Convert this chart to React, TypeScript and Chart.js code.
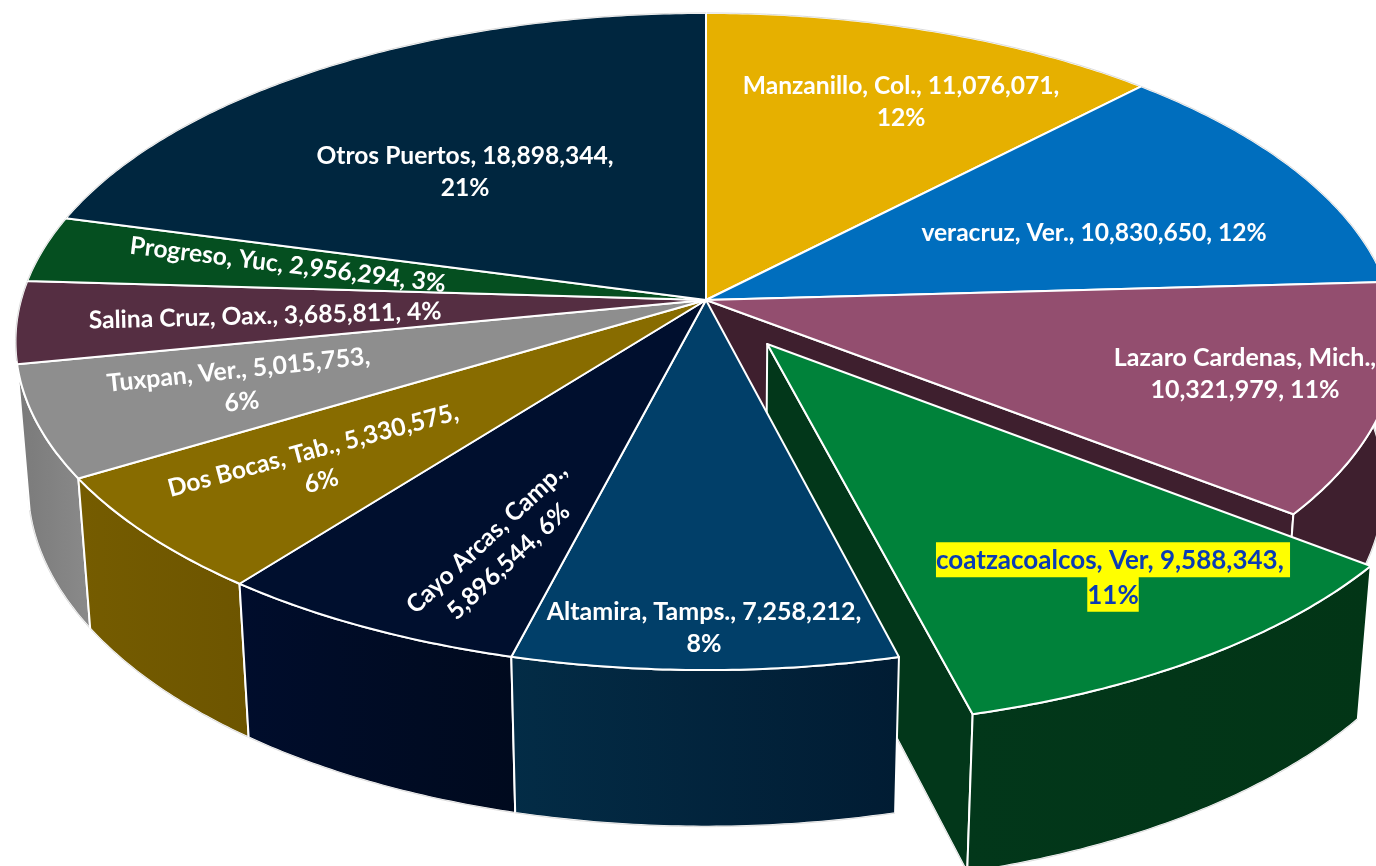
import React, { useEffect, useRef } from "react";
import { Chart, registerables } from "chart.js";

Chart.register(...registerables);

const categories = [
  "Manzanillo, Col.",
  "veracruz, Ver.",
  "Lazaro Cardenas, Mich.",
  "coatzacoalcos, Ver",
  "Altamira, Tamps.",
  "Cayo Arcas, Camp.",
  "Dos Bocas, Tab.",
  "Tuxpan, Ver.",
  "Salina Cruz, Oax.",
  "Progreso, Yuc",
  "Otros Puertos",
];
const values = [
  11076071, 10830650, 10321979, 9588343, 7258212, 5896544, 5330575, 5015753,
  3685811, 2956294, 18898344,
];
const topColors = [
  "#E6B000", "#006EBE", "#934E6F", "#00823A", "#013F69", "#000F2E",
  "#886C00", "#8E8E8E", "#552E42", "#054F20", "#00263F",
];
const wallLeft = [
  "#A07A00", "#004C84", "#3E1F2E", "#02371A", "#032C46", "#000D2C",
  "#755C00", "#7A7A7A", "#3B2030", "#033616", "#001A2C",
];
const wallRight = [
  "#A07A00", "#004C84", "#3E1F2E", "#023516", "#011C33", "#000A1E",
  "#6D5500", "#8A8A8A", "#3B2030", "#033616", "#001A2C",
];
// where each label's text wraps: "pct" before the percentage, "value" before the value, "" never
const wraps = ["pct", "", "value", "pct", "pct", "value", "pct", "pct", "", "", "pct"];

// label layout: centre x, centre y, rotation in degrees, font size
const labelX = [901, 1094, 1245, 1113, 704, 497, 317, 240, 265, 288, 465];
const labelY = [101, 232, 373, 577, 627, 549, 465, 385, 315, 264, 171];
const labelRot = [0, 0, 0, 0, 0, -43, -15, -6, -1.5, 7, 0];
const labelSize = [24.6, 24.6, 25, 26, 25, 24.6, 24.6, 24.8, 24.6, 24.6, 24.6];

const EXPLODED = 3;
const EXPLODE = 0.16;
const LINE = 32;
const EDGE = "rgba(190,190,190,0.55)";

// perspective camera for the unit disc (z = 0 top face, z = 1 bottom face)
const CX = 706, CY = 300, RX = 685, KY = 323.3, PV = -0.1263, QZ = 0.018, HZ = 146.3;
const project = (u: number, v: number, z: number): [number, number] => {
  const w = 1 + PV * v + QZ * z;
  return [CX + (RX * u) / w, CY + (KY * v + HZ * z) / w];
};

const tracePoints = (ctx: CanvasRenderingContext2D, pts: [number, number][], close = true) => {
  ctx.beginPath();
  pts.forEach((p, i) => (i ? ctx.lineTo(p[0], p[1]) : ctx.moveTo(p[0], p[1])));
  if (close) ctx.closePath();
};

const pie3d = {
  id: "pie3d",
  beforeDatasetDraw(chart: any) {
    const ctx: CanvasRenderingContext2D = chart.ctx;
    const arcs = chart.getDatasetMeta(0).data;
    const total = values.reduce((a, b) => a + b, 0);

    const geo = arcs.map((arc: any, i: number) => {
      const start = arc.startAngle, end = arc.endAngle;
      const mid = (start + end) / 2;
      const ox = i === EXPLODED ? EXPLODE * Math.cos(mid) : 0;
      const oy = i === EXPLODED ? EXPLODE * Math.sin(mid) : 0;
      const rim = (z: number, maxSin = 2) => {
        const pts: [number, number][] = [];
        const n = Math.max(2, Math.ceil((end - start) / 0.01));
        for (let k = 0; k <= n; k++) {
          const a = start + ((end - start) * k) / n;
          if (Math.sin(a) <= maxSin) pts.push(project(ox + Math.cos(a), oy + Math.sin(a), z));
        }
        return pts;
      };
      return { i, mid, start, end, apex: (z: number) => project(ox, oy, z), rim };
    });

    const edgeLine = (pts: [number, number][]) => {
      if (pts.length < 2) return;
      ctx.save();
      ctx.strokeStyle = EDGE;
      ctx.lineWidth = 1;
      tracePoints(ctx, pts, false);
      ctx.stroke();
      ctx.restore();
    };

    ctx.save();
    ctx.lineJoin = "round";
    ctx.lineWidth = 2;
    ctx.strokeStyle = "#FFFFFF";

    const outerWall = (g: any) => {
      const top = g.rim(0), bot = g.rim(1);
      const xs = top.concat(bot).map((p: number[]) => p[0]);
      const grad = ctx.createLinearGradient(Math.min(...xs), 0, Math.max(...xs), 0);
      grad.addColorStop(0, wallLeft[g.i]);
      grad.addColorStop(1, wallRight[g.i]);
      tracePoints(ctx, top.concat(bot.slice().reverse()));
      ctx.fillStyle = grad;
      ctx.fill();
      ctx.stroke();
      edgeLine(bot);
    };
    const radialWall = (g: any, col: string) => {
      const top = g.rim(0), bot = g.rim(1);
      const idx = top.length - 1;
      tracePoints(ctx, [g.apex(0), top[idx], bot[idx], g.apex(1)]);
      ctx.fillStyle = col;
      ctx.fill();
      ctx.stroke();
      edgeLine([bot[idx], g.apex(1)]);
    };
    const face = (g: any) => {
      tracePoints(ctx, [g.apex(0), ...g.rim(0)]);
      ctx.fillStyle = topColors[g.i];
      ctx.fill();
      ctx.stroke();
      edgeLine(g.rim(0, 0.19));
    };

    const ex = geo[EXPLODED];
    const rest = geo.filter((g: any) => g.i !== EXPLODED);
    // back to front
    const byDepth = rest.slice().sort((a: any, b: any) => Math.sin(a.mid) - Math.sin(b.mid));
    byDepth.forEach(outerWall);
    radialWall(geo[EXPLODED - 1], wallLeft[EXPLODED - 1]);
    radialWall(ex, wallLeft[EXPLODED]);
    byDepth.filter((g: any) => Math.sin(g.mid) > 0).forEach(outerWall);
    rest.forEach(face);
    outerWall(ex);
    face(ex);

    // labels
    ctx.textAlign = "center";
    ctx.textBaseline = "middle";
    categories.forEach((cat, i) => {
      ctx.font = `bold ${labelSize[i]}px Lato`;
      const pct = Math.round((values[i] / total) * 100) + "%";
      const val = values[i].toLocaleString("en-US");
      const lines =
        wraps[i] === "pct" ? [`${cat}, ${val},`, pct]
        : wraps[i] === "value" ? [`${cat},`, `${val}, ${pct}`]
        : [`${cat}, ${val}, ${pct}`];
      ctx.save();
      ctx.translate(labelX[i], labelY[i]);
      ctx.rotate((labelRot[i] * Math.PI) / 180);
      lines.forEach((ln, k) => {
        const y = (k - (lines.length - 1) / 2) * (i === EXPLODED ? 34.5 : LINE);
        if (i === EXPLODED) {
          const w = ctx.measureText(ln + (k === 0 ? " " : "")).width;
          ctx.fillStyle = "#FFFF00";
          ctx.fillRect(-w / 2, y - 17.5, w, 35);
          ctx.fillStyle = "#0A3CB4";
          ctx.fillText(ln, k === 0 ? -ctx.measureText(" ").width / 2 : 0, y + 1);
        } else {
          ctx.fillStyle = "#FFFFFF";
          ctx.fillText(ln, 0, y + 1);
        }
      });
      ctx.restore();
    });
    ctx.restore();
    return false;
  },
};

export default function App() {
  const ref = useRef<HTMLCanvasElement>(null);
  useEffect(() => {
    document.body.style.margin = "0";
    const chart = new Chart(ref.current!, {
      type: "pie",
      data: {
        labels: categories,
        datasets: [{ data: values, backgroundColor: topColors, borderColor: "#FFFFFF", borderWidth: 2 }],
      },
      options: {
        animation: false,
        responsive: false,
        plugins: { legend: { display: false }, tooltip: { enabled: false } },
      },
      plugins: [pie3d],
    } as any);
    return () => chart.destroy();
  }, []);
  return <canvas ref={ref} width={1376} height={866} style={{ display: "block" }} />;
}
